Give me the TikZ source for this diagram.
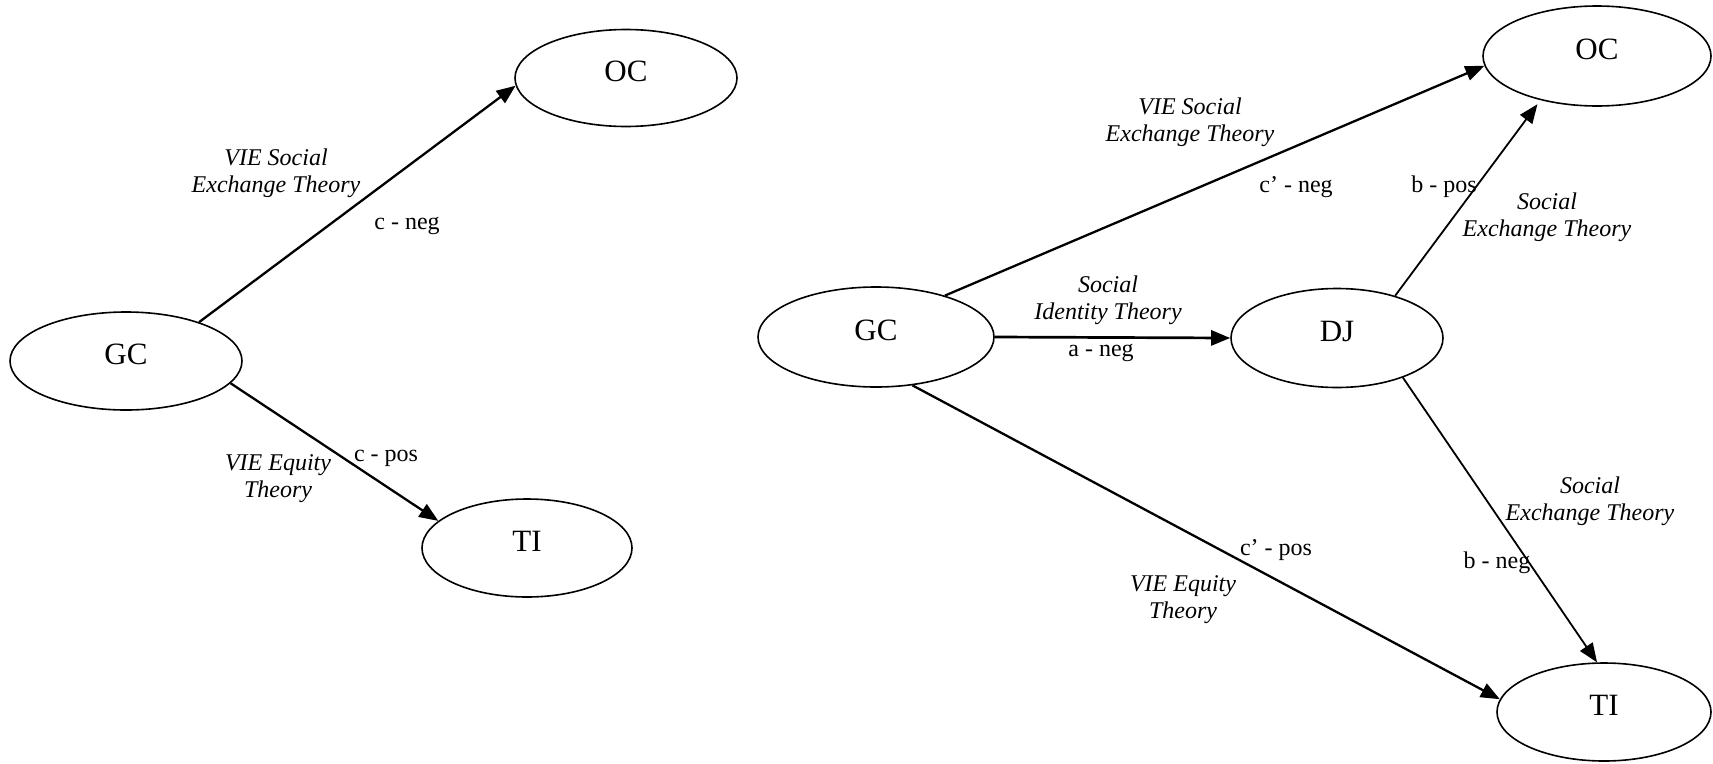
\documentclass[tikz,border=0pt]{standalone}
\usepackage{fontspec}
\setmainfont{Liberation Serif}
\usetikzlibrary{shapes.geometric,arrows.meta}
\begin{document}
\begin{tikzpicture}[x=1pt,y=-1pt,
  var/.style={draw,ellipse,line width=1.6pt,inner sep=0pt,font=\fontsize{31}{31}\selectfont,text depth=14pt},
  conn/.style={line width=2.3pt,-{Triangle[length=19pt,width=15pt]}},
  thin conn/.style={conn,line width=1.8pt},
  th/.style={font=\fontsize{24}{27}\selectfont\itshape,align=center,inner sep=0pt},
  co/.style={font=\fontsize{24}{27}\selectfont,inner sep=0pt}]
\useasboundingbox (0,0) rectangle (1713,763);
% left model
\node[var,minimum width=232pt,minimum height=98pt] (gc1) at (126,361) {GC};
\node[var,minimum width=222pt,minimum height=97pt] (oc1) at (626,78) {OC};
\node[var,minimum width=210pt,minimum height=98pt] (ti1) at (527,548) {TI};
\draw[conn] (gc1.28) -- (oc1.184);
\draw[conn] (gc1.-12) -- (ti1.163);
\node[th] (l1) at (276,173) {VIE Social\\Exchange Theory};
\node[co] (l2) at (407,226) {c - neg};
\node[co] (l3) at (386,458) {c - pos};
\node[th] (l4) at (278,479) {VIE Equity\\Theory};
% right model
\node[var,minimum width=236pt,minimum height=100pt] (gc2) at (876,337) {GC};
\node[var,minimum width=212pt,minimum height=99pt] (dj) at (1337,338) {DJ};
\node[var,minimum width=228pt,minimum height=100pt] (oc2) at (1597,56) {OC};
\node[var,minimum width=214pt,minimum height=98pt] (ti2) at (1604,712) {TI};
\draw[conn] (gc2.31) -- (oc2.185);
\draw[conn,line width=2.7pt] (gc2.0) -- (dj.180);
\draw[thin conn,shorten >=5pt] (dj.36) -- (oc2.218);
\draw[conn] (gc2.-53) -- (ti2.173);
\draw[thin conn] (dj.-31) -- (ti2.98);
\node[th] (r1) at (1190,122) {VIE Social\\Exchange Theory};
\node[co] (r2) at (1296,187) {c’ - neg};
\node[co] (r3) at (1444,187) {b - pos};
\node[th] (r4) at (1547,217) {Social\\Exchange Theory};
\node[th] (r5) at (1108,300) {Social\\Identity Theory};
\node[co] (r6) at (1101,353) {a - neg};
\node[co] (r7) at (1276,550) {c’ - pos};
\node[th] (r8) at (1183,600) {VIE Equity\\Theory};
\node[th] (r9) at (1590,501) {Social\\Exchange Theory};
\node[co] (r10) at (1497,563) {b - neg};
\end{tikzpicture}
\end{document}
